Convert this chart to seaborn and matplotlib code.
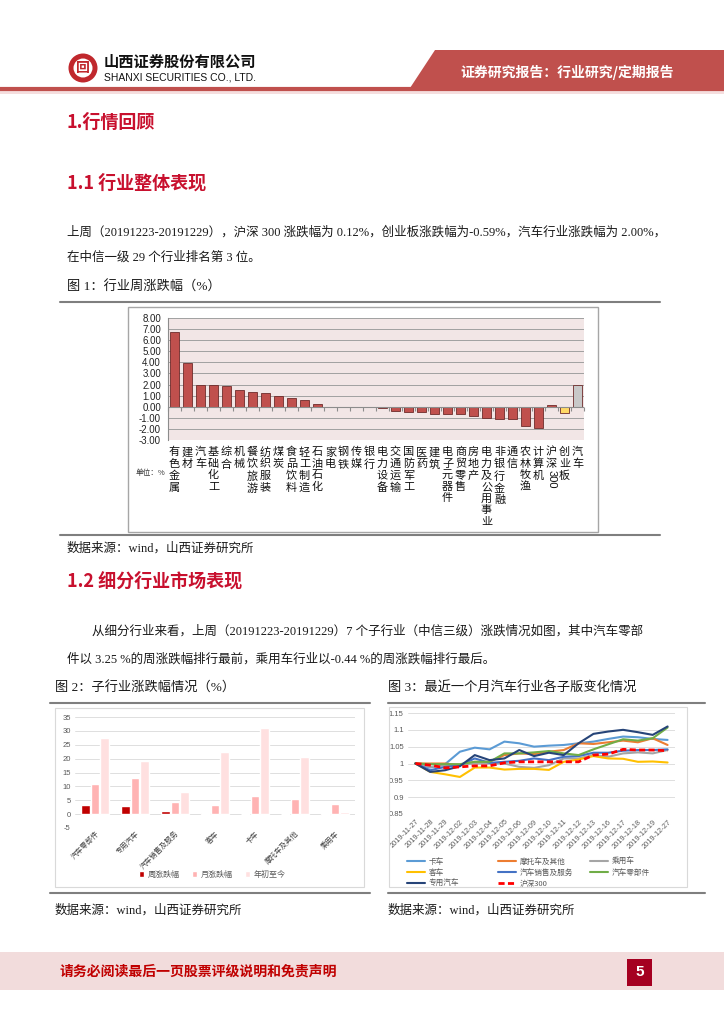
import matplotlib
matplotlib.use('Agg')
import matplotlib.pyplot as plt
import matplotlib.transforms as mtransforms
import seaborn as sns
import pandas as pd
import numpy as np
from matplotlib.patches import Rectangle, Polygon, Ellipse
from matplotlib.lines import Line2D

# ---------------- data ----------------
ind_labels = ["有色金属", "建材", "汽车", "基础化工", "综合", "机械", "餐饮旅游", "纺织服装",
              "煤炭", "食品饮料", "轻工制造", "石油石化", "家电", "钢铁", "传媒", "银行",
              "电力设备", "交通运输", "国防军工", "医药", "建筑", "电子元器件", "商贸零售",
              "房地产", "电力及公用事业", "非银行金融", "通信", "农林牧渔", "计算机",
              "沪深300", "创业板", "汽车"]
ind_values = [6.75, 3.95, 2.00, 1.95, 1.85, 1.50, 1.35, 1.28, 0.95, 0.78, 0.58, 0.28,
              0.02, 0.02, 0.02, -0.05, -0.15, -0.40, -0.45, -0.50, -0.62, -0.68, -0.68,
              -0.80, -1.00, -1.15, -1.15, -1.70, -1.90, 0.12, -0.59, 2.00]
ind_yticks = [8, 7, 6, 5, 4, 3, 2, 1, 0, -1, -2, -3]

sub_labels = ["汽车零部件", "专用汽车", "汽车销售及服务", "客车", "卡车", "摩托车及其他", "乘用车"]
sub_week = [3.25, 2.90, 1.10, 0.45, 0.08, 0.10, -0.44]
sub_month = [10.9, 13.0, 4.5, 3.4, 6.7, 5.6, 3.8]
sub_ytd = [27.3, 19.3, 8.1, 22.4, 31.0, 20.7, 0.8]
sub_series = ["周涨跌幅", "月涨跌幅", "年初至今"]

dates = ["2019-11-27", "2019-11-28", "2019-11-29", "2019-12-02", "2019-12-03", "2019-12-04",
         "2019-12-05", "2019-12-06", "2019-12-09", "2019-12-10", "2019-12-11", "2019-12-12",
         "2019-12-13", "2019-12-16", "2019-12-17", "2019-12-18", "2019-12-19", "2019-12-27"]
ka_che = [1.000, 0.988, 0.998, 1.035, 1.047, 1.042, 1.065, 1.060, 1.050, 1.053, 1.055, 1.060,
          1.065, 1.073, 1.080, 1.078, 1.073, 1.070]
motuo = [1.000, 1.000, 1.000, 0.995, 1.005, 1.005, 1.025, 1.030, 1.028, 1.035, 1.040, 1.060,
         1.058, 1.063, 1.068, 1.063, 1.075, 1.055]
chengyong = [1.000, 0.990, 0.995, 0.997, 1.000, 1.000, 1.000, 0.990, 0.987, 0.995, 1.015, 1.015,
             1.025, 1.020, 1.030, 1.033, 1.030, 1.040]
keche = [1.000, 0.975, 0.968, 0.960, 0.988, 0.988, 0.982, 0.984, 0.984, 0.981, 1.005, 1.012,
         1.022, 1.015, 1.014, 1.005, 1.006, 1.003]
xiaoshou = [1.000, 0.980, 0.990, 0.995, 1.015, 1.002, 1.005, 1.008, 1.015, 1.010, 1.020, 1.022,
            1.032, 1.032, 1.038, 1.040, 1.040, 1.042]
lingbujian = [1.000, 0.998, 0.998, 0.998, 1.005, 1.005, 1.030, 1.030, 1.033, 1.037, 1.030, 1.025,
              1.042, 1.057, 1.072, 1.068, 1.075, 1.107]
zhuanyong = [1.000, 0.975, 0.980, 0.992, 1.025, 1.010, 1.015, 1.040, 1.022, 1.032, 1.025, 1.060,
             1.088, 1.095, 1.100, 1.093, 1.085, 1.110]
hs300 = [1.000, 0.995, 0.987, 0.990, 0.993, 0.993, 1.002, 1.005, 1.005, 1.005, 1.005, 1.005,
         1.025, 1.028, 1.042, 1.040, 1.040, 1.038]
line_names = ["卡车", "摩托车及其他", "乘用车", "客车", "汽车销售及服务", "汽车零部件", "专用汽车", "沪深300"]
line_values = [ka_che, motuo, chengyong, keche, xiaoshou, lingbujian, zhuanyong, hs300]
line_colors = ["#5B9BD5", "#ED7D31", "#A5A5A5", "#FFC000", "#4472C4", "#70AD47", "#264478", "#FF0000"]

# ---------------- style ----------------
sns.set_style("white")
CJK = ["Noto Sans CJK SC", "DejaVu Sans"]
BODY = ["Liberation Serif", "Noto Sans CJK SC", "DejaVu Sans"]
NUM = ["Liberation Sans", "Noto Sans CJK SC", "DejaVu Sans"]
plt.rcParams['font.family'] = CJK
plt.rcParams['axes.unicode_minus'] = False

W, H = 724, 1024
fig = plt.figure(figsize=(W / 100, H / 100), dpi=100)
fig.patch.set_facecolor("white")


def rect(x0, y0, x1, y1):
    return [x0 / W, 1 - y1 / H, (x1 - x0) / W, (y1 - y0) / H]


def T(x, y, s, **kw):
    kw.setdefault("va", "center")
    return fig.text(x / W, 1 - y / H, s, **kw)


def hline(x0, x1, y, color="#7F7F7F", lw=1.5):
    fig.add_artist(Line2D([x0 / W, x1 / W], [1 - y / H, 1 - y / H], color=color, lw=lw,
                          transform=fig.transFigure))


RED_T = "#C8102E"

# ---------------- header ----------------
fig.add_artist(Polygon([[435 / W, 1 - 50 / H], [W / W, 1 - 50 / H], [1, 1 - 88 / H], [410 / W, 1 - 88 / H]],
                       closed=True, facecolor="#C0504D", edgecolor="none", transform=fig.transFigure))
hline(0, W, 89, color="#C0504D", lw=3)
fig.add_artist(Rectangle((0, 1 - 94 / H), 1, 4 / H, facecolor="#F5DEDE", edgecolor="none",
                         transform=fig.transFigure))
fig.add_artist(Ellipse((83 / W, 1 - 68 / H), 29 / W, 29 / H, facecolor="#C0282D", edgecolor="none",
                       transform=fig.transFigure))
fig.add_artist(Ellipse((83 / W, 1 - 68 / H), 19 / W, 19 / H, facecolor="white", edgecolor="none",
                       transform=fig.transFigure))
T(83, 68, "回", ha="center", fontsize=10, fontweight="bold", color="#C0282D")
T(104, 62, "山西证券股份有限公司", fontsize=11, fontweight="bold", color="#111111")
T(104, 77, "SHANXI SECURITIES CO., LTD.", fontsize=7.5, color="#111111", family=NUM)
T(567, 72, "证券研究报告：行业研究/定期报告", ha="center", fontsize=10, fontweight="bold", color="white")

# ---------------- body text ----------------
T(67, 122, "1.行情回顾", fontsize=13, fontweight="bold", color=RED_T)
T(67, 183, "1.1 行业整体表现", fontsize=13, fontweight="bold", color=RED_T)
T(67, 232, "上周（20191223-20191229），沪深 300 涨跌幅为 0.12%，创业板涨跌幅为-0.59%，汽车行业涨跌幅为 2.00%，",
  fontsize=9, family=BODY, color="#1A1A1A")
T(67, 258, "在中信一级 29 个行业排名第 3 位。", fontsize=9, family=BODY, color="#1A1A1A")
T(67, 287, "图 1：行业周涨跌幅（%）", fontsize=9.5, family=BODY, color="#1A1A1A")
hline(60, 660, 302)
hline(60, 660, 535)
T(67, 548, "数据来源：wind，山西证券研究所", fontsize=9, family=BODY, color="#1A1A1A")
T(67, 581, "1.2 细分行业市场表现", fontsize=13, fontweight="bold", color=RED_T)
T(92, 631, "从细分行业来看，上周（20191223-20191229）7 个子行业（中信三级）涨跌情况如图，其中汽车零部",
  fontsize=9, family=BODY, color="#1A1A1A")
T(67, 659, "件以 3.25 %的周涨跌幅排行最前，乘用车行业以-0.44 %的周涨跌幅排行最后。",
  fontsize=9, family=BODY, color="#1A1A1A")
T(55, 688, "图 2：子行业涨跌幅情况（%）", fontsize=9.5, family=BODY, color="#1A1A1A")
T(388, 688, "图 3：最近一个月汽车行业各子版变化情况", fontsize=9.5, family=BODY, color="#1A1A1A")
hline(50, 370, 703)
hline(388, 705, 703)
hline(50, 370, 893)
hline(388, 705, 893)
T(55, 910, "数据来源：wind，山西证券研究所", fontsize=9, family=BODY, color="#1A1A1A")
T(388, 910, "数据来源：wind，山西证券研究所", fontsize=9, family=BODY, color="#1A1A1A")

# ---------------- footer ----------------
fig.add_artist(Rectangle((0, 1 - 990 / H), 1, 38 / H, facecolor="#F2DCDC", edgecolor="none",
                         transform=fig.transFigure))
T(60, 971, "请务必阅读最后一页股票评级说明和免责声明", fontsize=10, fontweight="bold", color="#C00000")
fig.add_artist(Rectangle((627 / W, 1 - 986 / H), 25 / W, 27 / H, facecolor="#A50021", edgecolor="none",
                         transform=fig.transFigure))
T(639.5, 972, "5", ha="center", fontsize=11, fontweight="bold", color="white", family=NUM)

# ---------------- chart 1 ----------------
fig.add_artist(Rectangle((128 / W, 1 - 532 / H), 470 / W, 225 / H, fill=False, edgecolor="#A6A6A6",
                         lw=1, transform=fig.transFigure))
ax1 = fig.add_axes(rect(168, 318, 584, 440))
keys = [str(i) for i in range(len(ind_labels))]
bar_colors = ["#C0504D"] * len(ind_labels)
bar_colors[30] = "#FFD966"
bar_colors[31] = "#C8C8C8"
df1 = pd.DataFrame({"key": keys, "val": ind_values})
sns.barplot(data=df1, x="key", y="val", hue="key", palette=dict(zip(keys, bar_colors)), legend=False,
            ax=ax1, width=0.65, edgecolor="#6E2B2A", linewidth=0.6, saturation=1)
ax1.set_facecolor("#F2E6E6")
ax1.set_ylim(-3, 8)
ax1.set_xlim(-0.5, len(ind_labels) - 0.5)
ax1.set_yticks(ind_yticks)
ax1.set_yticklabels([f"{v:.2f}" for v in ind_yticks], fontsize=7, family=NUM, color="#222222")
ax1.yaxis.grid(True, color="#A0A0A0", lw=0.7)
ax1.set_axisbelow(True)
for s in ["top", "right", "bottom"]:
    ax1.spines[s].set_visible(False)
ax1.spines["left"].set_color("#8C8C8C")
ax1.spines["left"].set_linewidth(0.8)
ax1.tick_params(axis="y", length=3, color="#8C8C8C", pad=2)
tick_lbls = []
for lab in ind_labels:
    if lab == "沪深300":
        tick_lbls.append("沪\n深")
    else:
        tick_lbls.append("\n".join(lab))
ax1.set_xticks(range(len(ind_labels)))
ax1.set_xticklabels(tick_lbls, fontsize=8, linespacing=1.2, color="#111111", va="top")
ax1.tick_params(axis="x", length=0, pad=5)
ax1.set_xlabel("")
ax1.set_ylabel("")
ax1.axhline(0, color="#8C8C8C", lw=0.8, zorder=1.5)
sec = ax1.secondary_xaxis(3 / 11)
sec.set_xticks(np.arange(-0.5, len(ind_labels), 1.0))
sec.set_xticklabels([])
sec.tick_params(length=3, color="#8C8C8C", direction="out")
sec.spines["bottom"].set_visible(False)
trans = mtransforms.blended_transform_factory(ax1.transData, fig.transFigure)
ax1.text(29, 1 - 470 / H, "300", rotation=-90, ha="center", va="top", fontsize=8, family=NUM,
         color="#111111", transform=trans)
T(136, 473, "单位：%", fontsize=5.5, color="#333333")

# ---------------- chart 2 ----------------
fig.add_artist(Rectangle((55 / W, 1 - 887 / H), 309 / W, 179 / H, fill=False, edgecolor="#D9D9D9",
                         lw=0.8, transform=fig.transFigure))
ax2 = fig.add_axes(rect(75, 717, 355, 828))
df2 = pd.DataFrame({
    "cat": sub_labels * 3,
    "series": [sub_series[0]] * 7 + [sub_series[1]] * 7 + [sub_series[2]] * 7,
    "val": sub_week + sub_month + sub_ytd,
})
sns.barplot(data=df2, x="cat", y="val", hue="series", order=sub_labels, hue_order=sub_series,
            palette=["#C00000", "#FFB3B3", "#FFE0E0"], ax=ax2, width=0.7, gap=0.04, saturation=1)
ax2.set_ylim(-5, 35)
ax2.set_xlim(-0.5, 6.5)
ax2.set_yticks(range(-5, 36, 5))
ax2.set_yticklabels([str(v) for v in range(-5, 36, 5)], fontsize=5.5, family=NUM, color="#595959")
ax2.yaxis.grid(True, color="#D9D9D9", lw=0.6)
ax2.set_axisbelow(True)
for s in ax2.spines.values():
    s.set_visible(False)
ax2.tick_params(axis="y", length=0, pad=3)
ax2.tick_params(axis="x", length=0, pad=1)
ax2.set_xticks(range(7))
ax2.set_xticklabels(sub_labels, rotation=45, ha="right", rotation_mode="anchor", fontsize=5.2,
                    color="#404040")
ax2.set_xlabel("")
ax2.set_ylabel("")
ax2.legend(loc="center", bbox_to_anchor=(0.49, -0.42), ncol=3, frameon=False, fontsize=5.8,
           handlelength=0.7, handleheight=0.7, columnspacing=1.5, handletextpad=0.4,
           labelcolor="#595959")

# ---------------- chart 3 ----------------
fig.add_artist(Rectangle((389 / W, 1 - 887 / H), 298 / W, 180 / H, fill=False, edgecolor="#D9D9D9",
                         lw=0.8, transform=fig.transFigure))
ax3 = fig.add_axes(rect(408, 713, 675, 814))
xs = np.arange(len(dates))
for name, vals, col in zip(line_names, line_values, line_colors):
    if name == "沪深300":
        sns.lineplot(x=xs, y=vals, ax=ax3, color=col, lw=2.0, linestyle=(0, (2.2, 1.2)), label=name)
    else:
        sns.lineplot(x=xs, y=vals, ax=ax3, color=col, lw=1.5, label=name)
ax3.set_ylim(0.85, 1.15)
ax3.set_xlim(-0.5, len(dates) - 0.5)
yt = [0.85, 0.9, 0.95, 1.0, 1.05, 1.1, 1.15]
ax3.set_yticks(yt)
ax3.set_yticklabels(["0.85", "0.9", "0.95", "1", "1.05", "1.1", "1.15"], fontsize=5.5, family=NUM,
                    color="#595959")
ax3.yaxis.grid(True, color="#D9D9D9", lw=0.6)
ax3.set_axisbelow(True)
for s in ax3.spines.values():
    s.set_visible(False)
ax3.tick_params(length=0, pad=3)
ax3.set_xticks(xs)
ax3.set_xticklabels(dates, rotation=45, ha="right", rotation_mode="anchor", fontsize=5.3, family=NUM,
                    color="#595959")
ax3.set_xlabel("")
ax3.set_ylabel("")
handles, labels = ax3.get_legend_handles_labels()
hmap = dict(zip(labels, handles))
if ax3.get_legend():
    ax3.get_legend().remove()
columns = [(407, ["卡车", "客车", "专用汽车"]),
           (498, ["摩托车及其他", "汽车销售及服务", "沪深300"]),
           (590, ["乘用车", "汽车零部件"])]
legs = []
for xpix, names in columns:
    lg = ax3.legend([hmap[o] for o in names], names, loc="upper left",
                    bbox_to_anchor=(xpix / W, 1 - 858 / H), bbox_transform=fig.transFigure,
                    frameon=False, fontsize=5.5, handlelength=2.3, handletextpad=0.5,
                    labelspacing=0.4, borderaxespad=0, borderpad=0, labelcolor="#595959")
    legs.append(lg)
for lg in legs[:-1]:
    ax3.add_artist(lg)

fig.savefig("out.png", dpi=100)
